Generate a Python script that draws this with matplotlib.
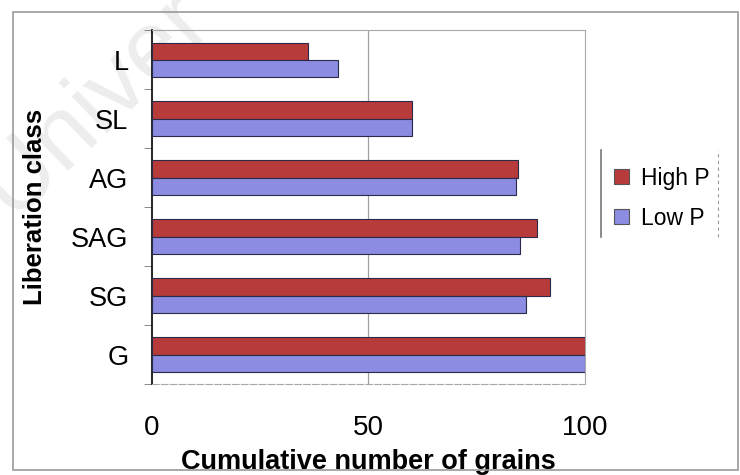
import numpy as np
import matplotlib
matplotlib.use("Agg")
import matplotlib.pyplot as plt
from matplotlib.patches import Rectangle

plt.rcParams['font.family'] = ['Liberation Sans', 'DejaVu Sans']

# liberation classes, top to bottom
classes = ['L', 'SL', 'AG', 'SAG', 'SG', 'G']
high_p = [36, 60, 84.5, 89, 92, 100]
low_p = [43, 60, 84, 85, 86.5, 100]
x_ticks = [0, 50, 100]

red = '#B83B3B'
lilac = '#8C8CE2'
edge = '#2A2A4A'

fig = plt.figure(figsize=(7.4, 4.75), dpi=100)

# faint watermark behind the chart
fig.text(0.016, 0.54, 'Univer', fontsize=70, color='#EDEDED',
         rotation=44, rotation_mode='anchor', ha='left', va='baseline', zorder=-1)

# outer chart frame
fig.patches.append(Rectangle((0.0176, 0.0105), 0.98, 0.964, transform=fig.transFigure,
                             fill=False, edgecolor='#9A9A9A', lw=1.2, zorder=1))

ax = fig.add_axes([0.2054, 0.1916, 0.585, 0.745])
ax.patch.set_alpha(0)

pos = np.arange(len(classes))
h = 0.29
ax.barh(pos - h / 2, high_p, height=h, color=red, edgecolor=edge, lw=0.8,
        label='High P', zorder=3)
ax.barh(pos + h / 2, low_p, height=h, color=lilac, edgecolor=edge, lw=0.8,
        label='Low P', zorder=3)

ax.set_xlim(0, 100)
ax.set_ylim(len(classes) - 0.5, -0.5)
ax.axvline(50, color='#A0A0A0', lw=0.9, zorder=1)

for side in ['top', 'right']:
    ax.spines[side].set_color('#A8A8A8')
ax.spines['bottom'].set_color('#A8A8A8')
ax.spines['bottom'].set_linestyle((0, (6, 2)))
ax.spines['left'].set_color('black')
ax.spines['left'].set_linewidth(1.2)

ax.set_yticks(pos)
ax.set_yticklabels(classes, fontsize=19.5)
ax.set_yticks(np.arange(len(classes) + 1) - 0.5, minor=True)
ax.tick_params(axis='y', which='major', length=0, pad=17)
ax.tick_params(axis='y', which='minor', length=6, color='#777777')

ax.set_xticks(x_ticks)
ax.set_xticklabels([str(t) for t in x_ticks], fontsize=20)
ax.tick_params(axis='x', length=0, pad=22)

ax.set_xlabel('Cumulative number of grains', fontsize=19.5, fontweight='bold', labelpad=6)
ax.set_ylabel('Liberation class', fontsize=18.5, fontweight='bold', labelpad=17)

leg = ax.legend(loc='center left', bbox_to_anchor=(1.02, 0.525), fontsize=16.5,
                frameon=False, handlelength=0.65, handleheight=0.65,
                handletextpad=0.5, labelspacing=0.75)
for hnd in leg.legend_handles:
    hnd.set_edgecolor('#555555')

# legend box edges
fig.add_artist(plt.Line2D([0.812, 0.812], [0.502, 0.684], transform=fig.transFigure,
                          color='#777777', lw=1.2))
fig.add_artist(plt.Line2D([0.97, 0.97], [0.502, 0.684], transform=fig.transFigure,
                          color='#999999', lw=0.8, ls=(0, (3, 3))))

fig.savefig('out.png', dpi=100)
